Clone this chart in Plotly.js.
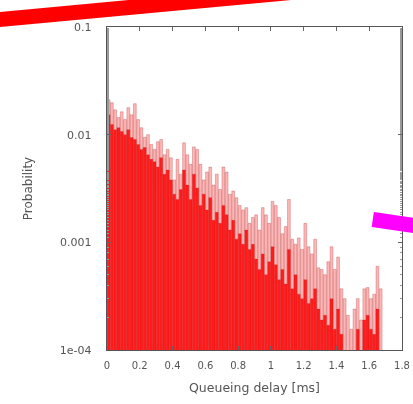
<!DOCTYPE html>
<html>
<head>
<meta charset="utf-8">
<script src="https://cdn.plot.ly/plotly-3.0.1.min.js"></script>
<style>html,body{margin:0;padding:0;background:#fff;}#chart{width:413px;height:404px;filter:blur(0.4px);}</style>
</head>
<body>
<div id="chart"></div>
<script>
// Bin centres of the histogram (queueing delay, ms), bin width 0.02
const binWidth = 0.02;
const binCenters = [
0.01,0.03,0.05,0.07,0.09,0.11,0.13,0.15,0.17,0.19,
0.21,0.23,0.25,0.27,0.29,0.31,0.33,0.35,0.37,0.39,
0.41,0.43,0.45,0.47,0.49,0.51,0.53,0.55,0.57,0.59,
0.61,0.63,0.65,0.67,0.69,0.71,0.73,0.75,0.77,0.79,
0.81,0.83,0.85,0.87,0.89,0.91,0.93,0.95,0.97,0.99,
1.01,1.03,1.05,1.07,1.09,1.11,1.13,1.15,1.17,1.19,
1.21,1.23,1.25,1.27,1.29,1.31,1.33,1.35,1.37,1.39,
1.41,1.43,1.45,1.47,1.49,1.51,1.53,1.55,1.57,1.59,
1.61,1.63,1.65,1.67,1.69];

// Peak probabilities (light, translucent bars)
const probPeak = [
0.0211,0.0198,0.0170,0.0144,0.0163,0.0138,0.0178,0.0153,0.0194,0.0138,
0.0116,0.0094,0.0100,0.0081,0.0073,0.0086,0.0090,0.0065,0.0073,0.0061,
0.0038,0.0059,0.0043,0.0084,0.0065,0.0053,0.0077,0.0073,0.0053,0.0038,
0.0045,0.0050,0.0034,0.0043,0.0031,0.0050,0.0045,0.0028,0.0030,0.0026,
0.0022,0.0020,0.0021,0.0015,0.0017,0.0018,0.0013,0.0021,0.0018,0.0015,
0.0024,0.0022,0.0017,0.0012,0.0014,0.0025,0.00107,0.00096,0.0011,0.00086,
0.0015,0.00091,0.00078,0.00107,0.00058,0.00056,0.00050,0.00066,0.00091,0.00056,
0.00073,0.00037,0.00030,0.00021,0.000156,0.00024,0.00030,0.00019,0.00037,0.00038,
0.00030,0.00033,0.00060,0.00037,null];

// Base probabilities (solid red bars)
const probBase = [
0.0153,0.0124,0.0111,0.0116,0.0107,0.0100,0.0111,0.0094,0.0090,0.0081,
0.0073,0.0076,0.0065,0.0059,0.0056,0.0050,0.0061,0.0043,0.0047,0.0038,
0.0028,0.0025,0.0031,0.0047,0.0034,0.0025,0.0043,0.0032,0.0022,0.0028,
0.0020,0.0026,0.0016,0.0019,0.0015,0.0022,0.0018,0.0013,0.0016,0.00107,
0.0012,0.00096,0.0013,0.00086,0.00096,0.00070,0.00056,0.00078,0.00050,0.00066,
0.00091,0.00062,0.00045,0.00056,0.00041,0.00086,0.00037,0.00050,0.00033,0.00030,
0.00045,0.00027,0.00030,0.00037,0.00024,0.00019,0.00021,0.00017,0.00030,0.000156,
0.00024,0.00014,null,null,null,null,0.000156,null,0.00019,0.00021,
0.000156,0.00014,0.00024,null,null];

const xTicks = [0,0.2,0.4,0.6,0.8,1,1.2,1.4,1.6,1.8];
const xTickText = ["0","0.2","0.4","0.6","0.8","1","1.2","1.4","1.6","1.8"];
const yTicks = [0.0001,0.001,0.01,0.1];
const yTickText = ["1e-04","0.001","0.01","0.1"];

const traces = [
  {type:'bar', x:binCenters, y:probPeak, width:binWidth*0.85,
   marker:{color:'rgba(255,110,110,0.5)', line:{color:'rgba(160,30,30,0.45)', width:0.6}},
   hoverinfo:'skip', showlegend:false},
  {type:'bar', x:binCenters, y:probBase, width:binWidth*0.9,
   marker:{color:'rgba(255,15,15,0.92)', line:{color:'rgba(200,0,0,0.4)', width:0.5}},
   hoverinfo:'skip', showlegend:false}
];

const fam = 'DejaVu Sans, Liberation Sans, sans-serif';

const layout = {
  width:413, height:404,
  margin:{l:107, r:11, t:27, b:54},
  paper_bgcolor:'#fff', plot_bgcolor:'#fff',
  barmode:'overlay', bargap:0,
  showlegend:false,
  font:{family:fam, size:11, color:'#555'},
  xaxis:{
    range:[0,1.8], tickvals:xTicks, ticktext:xTickText,
    ticks:'inside', ticklen:4, tickcolor:'#666',
    ticklabelstandoff:6,
    showline:true, linecolor:'#555', linewidth:1.3, mirror:'ticks',
    showgrid:false, zeroline:false, tickfont:{family:fam, size:10, color:'#555'},
    title:{text:'Queueing delay [ms]', font:{family:fam, size:12.5, color:'#555'}, standoff:13}
  },
  yaxis:{
    type:'log', range:[-4,-1], tickvals:yTicks, ticktext:yTickText,
    ticks:'inside', ticklen:4, tickcolor:'#666',
    ticklabelstandoff:12,
    minor:{ticks:'inside', ticklen:2, tickcolor:'#999', showgrid:false},
    showline:true, linecolor:'#555', linewidth:1.3, mirror:'ticks',
    showgrid:false, zeroline:false, tickfont:{family:fam, size:11, color:'#555'},
    title:{text:'Probability', font:{family:fam, size:12, color:'#555'}, standoff:24}
  },
  shapes:[
    {type:'line', xref:'paper', yref:'paper', x0:-0.381, y0:1.0218, x1:0.656, y1:1.1096,
     line:{color:'#ff0000', width:15}},
    {type:'line', xref:'paper', yref:'paper', x0:0.901, y0:0.404, x1:1.065, y1:0.382,
     line:{color:'#ff00ff', width:15}}
  ]
};

Plotly.newPlot('chart', traces, layout, {displayModeBar:false, staticPlot:true});
</script>
</body>
</html>
